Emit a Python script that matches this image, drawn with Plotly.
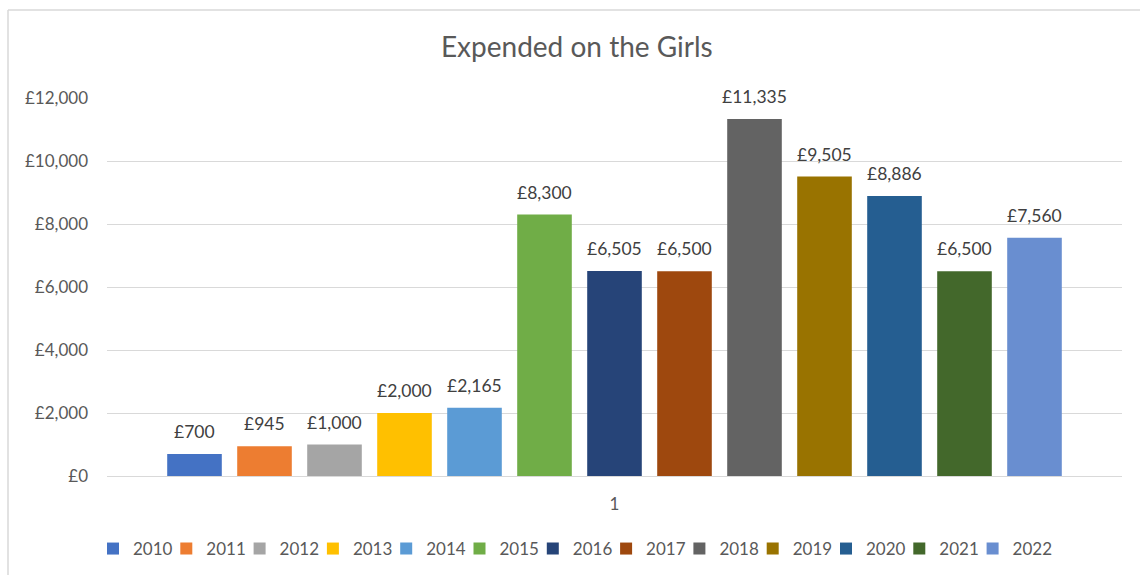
import plotly.graph_objects as go

# ---- data ----
TITLE = "Expended on the Girls"
CATEGORY = ["1"]
YEARS = [2010, 2011, 2012, 2013, 2014, 2015, 2016, 2017, 2018, 2019, 2020, 2021, 2022]
VALUES = [700, 945, 1000, 2000, 2165, 8300, 6505, 6500, 11335, 9505, 8886, 6500, 7560]
COLORS = ["#4472C4", "#ED7D31", "#A5A5A5", "#FFC000", "#5B9BD5", "#70AD47", "#264478",
          "#9E480E", "#636363", "#997300", "#255E91", "#43682B", "#698ED0"]
Y_TICKS = [0, 2000, 4000, 6000, 8000, 10000, 12000]
Y_TICK_TEXT = ["£" + f"{t:,}" for t in Y_TICKS]

FONT = "Lato"
W, H = 1140, 575
PITCH = 73.3   # legend item pitch (px)
LEG_X0 = 93    # left of first legend item (px)

fig = go.Figure()
legends = {}
for i, (yr, v, c) in enumerate(zip(YEARS, VALUES, COLORS)):
    key = "legend" if i == 0 else f"legend{i + 1}"
    fig.add_trace(go.Bar(
        x=[yr], y=[v], name=str(yr), marker=dict(color=c, line=dict(width=0)),
        width=0.78, showlegend=True, legend=key,
        hovertemplate="%{fullData.name}: £%{y:,}<extra></extra>",
    ))
    fig.add_annotation(
        x=yr, y=v, text=f"£{v:,}", showarrow=False, yanchor="bottom", yshift=10,
        font=dict(family=FONT, size=17.5, color="#404040"),
    )
    legends[key] = dict(
        orientation="h", xref="container", yref="container",
        x=(LEG_X0 + i * PITCH) / W, xanchor="left", y=1 - 549 / H, yanchor="middle",
        font=dict(family=FONT, size=17, color="#595959"),
        itemwidth=30, bgcolor="rgba(0,0,0,0)",
    )

mid = (YEARS[0] + YEARS[-1]) / 2
half = (len(YEARS) + 1.5) / 2

fig.update_layout(
    width=W, height=H,
    paper_bgcolor="white", plot_bgcolor="white",
    margin=dict(l=107, r=18, t=98, b=99, autoexpand=False),
    barmode="overlay",
    title=dict(text=TITLE, x=0.506, xref="container", xanchor="center",
               y=1 - 47 / H, yref="container", yanchor="middle",
               font=dict(family=FONT, size=28, color="#595959")),
    xaxis=dict(range=[mid - half, mid + half], tickmode="array", tickvals=[mid],
               ticktext=CATEGORY, showgrid=False, zeroline=False, showline=False,
               ticks="", ticklabelstandoff=16,
               tickfont=dict(family=FONT, size=17, color="#595959")),
    yaxis=dict(range=[0, 12000], tickmode="array", tickvals=Y_TICKS, ticktext=Y_TICK_TEXT,
               showgrid=True, gridcolor="#D9D9D9",
               gridwidth=1, zeroline=True, zerolinecolor="#D9D9D9", zerolinewidth=1,
               ticks="", ticklabelstandoff=18,
               tickfont=dict(family=FONT, size=17, color="#595959")),
    shapes=[
        dict(type="line", xref="paper", yref="paper",
             x0=(8 - 107) / 1015, x1=(8 - 107) / 1015, y0=(476 - 600) / 378, y1=(476 - 10) / 378,
             line=dict(color="#D9D9D9", width=1.5)),
        dict(type="line", xref="paper", yref="paper",
             x0=(8 - 107) / 1015, x1=(1160 - 107) / 1015, y0=(476 - 10) / 378, y1=(476 - 10) / 378,
             line=dict(color="#D9D9D9", width=1.5)),
    ],
    **legends,
)

fig.write_html("out.html")
